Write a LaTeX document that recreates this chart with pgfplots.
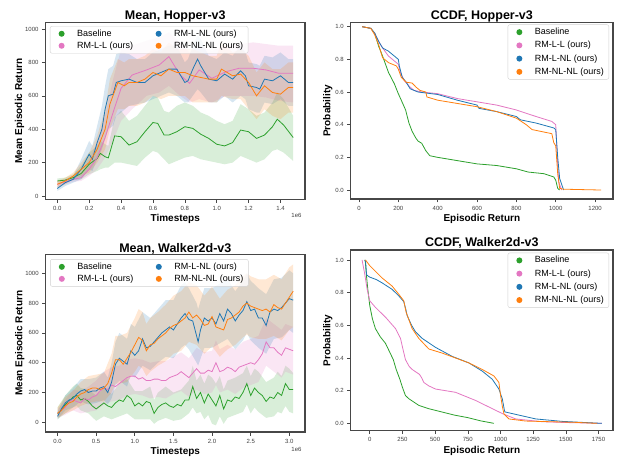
\documentclass[border=0pt]{standalone}
\usepackage{fontspec}
\setmainfont{Liberation Sans}
\usepackage{pgfplots}
\pgfplotsset{compat=1.18}
\usepackage{pgfplotstable}

\definecolor{tgreen}{HTML}{2CA02C}
\definecolor{tpink}{HTML}{E377C2}
\definecolor{tblue}{HTML}{1F77B4}
\definecolor{torange}{HTML}{FF7F0E}

% ---- Mean, Hopper-v3 (x in 1e6 timesteps)
\pgfplotstableread{
x m
0 90
0.05 95
0.1 110
0.15 135
0.2 190
0.25 225
0.27 255
0.3 235
0.32 228
0.36 360
0.4 355
0.45 305
0.5 325
0.55 385
0.6 440
0.63 435
0.67 365
0.7 365
0.75 385
0.8 415
0.85 405
0.9 370
0.95 345
1.0 310
1.05 300
1.1 320
1.15 395
1.2 385
1.25 345
1.3 365
1.35 415
1.38 460
1.42 425
1.48 350
}\hopBase
\pgfplotstableread{
x m
0 70
0.05 85
0.1 100
0.15 110
0.2 160
0.25 230
0.3 350
0.35 500
0.4 645
0.47 725
0.56 755
0.64 785
0.7 835
0.77 725
0.83 675
0.89 755
0.97 705
1.06 745
1.14 765
1.23 765
1.31 755
1.39 735
1.48 735
}\hopLL
\pgfplotstableread{
x m
0 45
0.05 80
0.1 100
0.15 160
0.2 250
0.22 220
0.25 320
0.28 400
0.3 520
0.32 600
0.35 610
0.37 680
0.4 690
0.45 700
0.5 680
0.55 680
0.6 720
0.65 740
0.7 760
0.75 760
0.8 680
0.82 690
0.85 760
0.88 820
0.9 780
0.95 700
1.0 690
1.05 730
1.1 700
1.15 750
1.18 720
1.2 660
1.25 650
1.27 640
1.3 700
1.35 690
1.4 720
1.45 680
1.48 680
}\hopLNL
\pgfplotstableread{
x m
0 70
0.05 90
0.1 120
0.15 160
0.2 200
0.25 280
0.3 400
0.33 550
0.38 680
0.42 660
0.45 680
0.5 680
0.55 700
0.6 740
0.65 720
0.7 760
0.75 740
0.8 740
0.85 720
0.9 710
0.95 700
1.0 700
1.03 760
1.1 720
1.15 730
1.2 680
1.25 600
1.3 660
1.35 620
1.4 610
1.45 650
1.48 650
}\hopNLNL

% ---- Mean, Walker2d-v3
\pgfplotstableread{
x m
0 60
0.05 80
0.1 120
0.15 140
0.2 170
0.25 180
0.3 150
0.35 160
0.4 140
0.45 110
0.5 90
0.55 110
0.6 130
0.65 110
0.7 100
0.75 130
0.8 150
0.85 140
0.9 180
0.95 160
1.0 110
1.05 130
1.1 110
1.15 140
1.2 130
1.25 60
1.3 100
1.35 120
1.4 130
1.45 110
1.5 100
1.55 120
1.6 110
1.65 150
1.7 150
1.75 240
1.8 160
1.85 200
1.9 130
1.95 190
2.0 150
2.05 110
2.1 180
2.15 90
2.2 150
2.25 140
2.3 170
2.35 160
2.4 200
2.45 260
2.5 180
2.55 230
2.6 200
2.65 180
2.7 140
2.75 170
2.8 160
2.85 200
2.9 180
2.95 260
3.0 220
3.05 220
}\walBase
\pgfplotstableread{
x m
0 60
0.1 100
0.15 140
0.2 150
0.25 140
0.3 130
0.35 160
0.4 150
0.45 170
0.5 180
0.55 210
0.6 230
0.65 220
0.7 250
0.75 240
0.8 260
0.85 280
0.9 300
0.95 310
1.0 310
1.05 290
1.1 300
1.15 280
1.2 280
1.25 290
1.3 290
1.35 280
1.4 280
1.45 300
1.5 310
1.55 320
1.6 340
1.65 320
1.7 300
1.75 330
1.8 360
1.85 330
1.9 330
1.95 350
2.0 340
2.05 400
2.1 340
2.15 350
2.2 370
2.25 360
2.3 340
2.35 370
2.4 380
2.45 390
2.5 400
2.55 390
2.6 420
2.65 460
2.7 540
2.75 500
2.8 500
2.85 470
2.9 450
2.95 500
3.0 490
3.05 480
}\walLL
\pgfplotstableread{
x m
0 40
0.05 90
0.1 130
0.15 150
0.2 160
0.25 190
0.3 210
0.35 220
0.4 200
0.45 210
0.5 210
0.55 230
0.6 240
0.65 200
0.7 270
0.75 390
0.8 430
0.85 410
0.9 390
0.95 480
1.0 450
1.05 480
1.1 560
1.15 500
1.2 510
1.25 540
1.3 570
1.35 600
1.4 620
1.45 640
1.5 620
1.55 660
1.6 700
1.65 730
1.7 690
1.75 680
1.8 580
1.82 540
1.85 620
1.9 700
1.95 680
2.0 700
2.05 660
2.1 730
2.15 680
2.2 760
2.25 730
2.3 680
2.35 720
2.4 750
2.45 810
2.5 750
2.55 760
2.6 700
2.65 700
2.7 650
2.75 740
2.8 760
2.85 750
2.9 770
2.95 800
3.0 830
3.05 820
}\walLNL
\pgfplotstableread{
x m
0 60
0.05 80
0.1 110
0.15 130
0.2 140
0.25 170
0.3 190
0.35 200
0.4 220
0.45 230
0.5 230
0.55 220
0.6 230
0.65 260
0.7 330
0.75 420
0.8 420
0.85 390
0.9 430
0.95 470
1.0 520
1.05 570
1.1 550
1.15 480
1.2 520
1.25 530
1.3 560
1.35 580
1.4 600
1.45 630
1.5 650
1.55 660
1.6 680
1.65 700
1.7 740
1.75 700
1.8 720
1.85 690
1.9 650
1.95 660
2.0 710
2.05 640
2.1 630
2.15 620
2.2 690
2.25 700
2.3 720
2.35 740
2.4 780
2.45 800
2.5 780
2.55 770
2.6 760
2.65 750
2.7 760
2.75 740
2.8 790
2.85 770
2.9 760
2.95 800
3.0 840
3.05 880
}\walNLNL

% ---- CCDF tables: episodic return, probability
\pgfplotstableread{
r p
16 1.0
60 0.99
80 0.96
100 0.88
120 0.82
150 0.72
180 0.65
200 0.59
215 0.55
237 0.49
254 0.41
270 0.36
288 0.32
300 0.30
319 0.286
340 0.24
360 0.21
400 0.20
500 0.18
600 0.16
700 0.15
800 0.13
860 0.11
940 0.10
990 0.08
1000 0.06
1010 0.01
1020 0.0
}\chopBase
\pgfplotstableread{
r p
16 1.0
60 0.99
80 0.96
100 0.91
120 0.87
150 0.82
180 0.79
200 0.77
210 0.72
230 0.67
260 0.63
280 0.61
320 0.60
400 0.59
500 0.56
600 0.54
700 0.52
800 0.49
900 0.45
980 0.42
1000 0.40
1008 0.20
1015 0.05
1030 0.0
}\chopLL
\pgfplotstableread{
r p
16 1.0
60 0.99
80 0.96
100 0.91
120 0.87
150 0.85
180 0.82
200 0.80
205 0.76
220 0.69
240 0.66
260 0.62
300 0.60
400 0.585
500 0.55
600 0.52
610 0.50
700 0.48
800 0.45
820 0.43
900 0.41
990 0.38
1000 0.37
1010 0.20
1020 0.07
1040 0.0
}\chopLNL
\pgfplotstableread{
r p
16 1.0
60 0.99
80 0.95
100 0.89
120 0.81
150 0.78
190 0.76
200 0.74
215 0.69
240 0.66
270 0.655
290 0.63
310 0.61
340 0.60
345 0.57
400 0.55
500 0.53
600 0.51
700 0.48
800 0.44
850 0.40
880 0.37
980 0.345
990 0.29
1000 0.27
1010 0.10
1020 0.01
1040 0.005
1230 0.0
}\chopNLNL
\pgfplotstableread{
r p
-35 1.0
-25 0.9
-15 0.82
0 0.72
20 0.64
43 0.58
80 0.53
120 0.49
150 0.44
180 0.39
202 0.33
230 0.27
250 0.22
273 0.17
300 0.15
375 0.11
450 0.09
550 0.07
650 0.05
750 0.035
850 0.015
950 0.0
}\cwalBase
\pgfplotstableread{
r p
-59 1.0
-40 0.92
-20 0.82
0 0.75
43 0.71
120 0.65
197 0.58
235 0.52
255 0.45
273 0.39
300 0.35
324 0.33
380 0.30
396 0.28
414 0.25
450 0.23
503 0.21
656 0.19
810 0.14
937 0.09
1014 0.06
1116 0.027
1320 0.01
1500 0.005
1775 0.0
}\cwalLL
\pgfplotstableread{
r p
-40 1.0
-32 0.99
-25 0.91
-10 0.90
0 0.895
50 0.88
94 0.86
171 0.82
222 0.78
260 0.745
275 0.70
286 0.66
320 0.60
350 0.56
401 0.52
503 0.465
630 0.41
758 0.37
860 0.32
937 0.27
988 0.21
1014 0.15
1030 0.08
1034 0.07
1116 0.055
1270 0.027
1473 0.012
1775 0.0
}\cwalLNL
\pgfplotstableread{
r p
-33 1.0
0 0.965
94 0.89
171 0.84
222 0.79
260 0.75
278 0.68
324 0.58
375 0.52
452 0.455
554 0.43
656 0.40
758 0.37
860 0.33
950 0.29
988 0.25
1001 0.17
1015 0.10
1027 0.057
1065 0.027
1193 0.014
1576 0.006
1740 0.0
}\cwalNLNL

\pgfplotsset{
  panel/.style={
    scale only axis,
    axis line style={draw=black!72, line width=1.1pt},
    xtick pos=lower, ytick pos=left,
    tick align=outside,
    major tick length=3.5pt,
    tick style={draw=black!72, line width=0.6pt},
    ticklabel style={font=\fontsize{6}{7}\selectfont, text=black!75},
    /pgf/number format/assume math mode=true,
    /pgf/number format/1000 sep={},
    scaled ticks=false,
    title style={font=\bfseries\fontsize{12.5}{14}\selectfont,
      at={(0.5,1)}, anchor=base, yshift=-2.5pt},
    label style={font=\bfseries\fontsize{10}{12}\selectfont},
    xlabel style={yshift=3pt},
    legend cell align=left,
    legend style={font=\fontsize{9}{10.5}\selectfont, draw=black!18,
      rounded corners=2pt, fill=white, fill opacity=0.8, text opacity=1,
      inner xsep=3pt, inner ysep=1.5pt},
    legend image code/.code={\path[draw=none] (0pt,0pt) -- (22pt,0pt);
      \fill[##1, draw=none, fill opacity=1] (8.5pt,0pt) circle (3pt);},
    every axis plot/.append style={line width=0.8pt},
  },
  band/.style={draw=none, fill=#1, fill opacity=0.18, forget plot},
  % offset multiplier under the x axis (not clipped)
  expo/.style={extra description/.code={
    \node[anchor=east, font=\fontsize{6}{6}\selectfont, text=black!75]
      at (1,#1) {1e6};}},
}

\begin{document}
\begin{tikzpicture}
\useasboundingbox (0,0) rectangle (618pt,458pt);

% ===== Mean, Hopper-v3
\begin{axis}[panel, expo=-0.088,
  at={(45.5pt,258.5pt)}, anchor=south west,
  width=259.5pt, height=176.8pt,
  xmin=-0.074, xmax=1.554, ymin=-21, ymax=1038,
  xtick={0,0.2,0.4,0.6,0.8,1.0,1.2,1.4},
  xticklabel style={/pgf/number format/.cd, fixed, fixed zerofill, precision=1},
  ytick={0,200,400,600,800,1000},
  title={Mean, Hopper-v3},
  xlabel={Timesteps}, ylabel={Mean Episodic Return},
  ylabel style={yshift=-6pt},
  legend columns=2, legend transposed=true,
  legend style={at={(0.017,0.981)}, anchor=north west,
    /tikz/every even column/.append style={column sep=15pt}},
]
% bands: upper edge left to right, then lower edge right to left
\addplot[band=tgreen] coordinates {(0,105)(0.05,110)(0.1,130)(0.15,180)(0.2,260)(0.25,300)(0.27,330)(0.3,310)(0.32,300)(0.36,470)(0.4,510)(0.45,450)(0.5,480)(0.55,540)(0.6,600)(0.63,590)(0.67,510)(0.7,500)(0.75,540)(0.8,560)(0.85,540)(0.9,500)(0.95,480)(1.0,450)(1.05,430)(1.1,450)(1.15,550)(1.2,520)(1.25,480)(1.3,500)(1.35,560)(1.38,620)(1.42,580)(1.48,480)
 (1.48,210)(1.42,260)(1.38,280)(1.35,270)(1.3,220)(1.25,200)(1.2,220)(1.15,240)(1.1,200)(1.05,190)(1.0,200)(0.95,210)(0.9,220)(0.85,240)(0.8,230)(0.75,210)(0.7,190)(0.67,220)(0.63,260)(0.6,270)(0.55,230)(0.5,180)(0.45,190)(0.4,200)(0.36,200)(0.32,170)(0.3,170)(0.27,160)(0.25,150)(0.2,130)(0.15,100)(0.1,95)(0.05,80)(0,75)};
\addplot[band=tpink] coordinates {(0,90)(0.05,100)(0.1,120)(0.15,140)(0.2,220)(0.25,320)(0.3,480)(0.35,700)(0.4,880)(0.47,900)(0.56,930)(0.64,950)(0.7,980)(0.77,920)(0.83,860)(0.89,900)(0.97,870)(1.06,900)(1.14,910)(1.23,920)(1.31,910)(1.39,900)(1.48,900)
 (1.48,560)(1.39,570)(1.31,590)(1.23,600)(1.14,600)(1.06,600)(0.97,560)(0.89,580)(0.83,560)(0.77,600)(0.7,660)(0.64,620)(0.56,600)(0.47,520)(0.4,450)(0.35,330)(0.3,230)(0.25,160)(0.2,120)(0.15,90)(0.1,85)(0.05,70)(0,55)};
\addplot[band=tblue] coordinates {(0,60)(0.05,100)(0.1,120)(0.15,220)(0.2,330)(0.22,300)(0.25,420)(0.28,540)(0.3,660)(0.32,760)(0.35,780)(0.37,850)(0.4,860)(0.45,850)(0.5,820)(0.55,820)(0.6,860)(0.65,880)(0.7,900)(0.75,900)(0.8,800)(0.82,820)(0.85,900)(0.88,960)(0.9,940)(0.95,840)(1.0,820)(1.05,860)(1.1,840)(1.15,900)(1.18,860)(1.2,800)(1.25,790)(1.27,780)(1.3,840)(1.35,830)(1.4,860)(1.45,820)(1.48,820)
 (1.48,540)(1.45,540)(1.4,580)(1.35,550)(1.3,560)(1.27,500)(1.25,500)(1.2,520)(1.18,580)(1.15,600)(1.1,560)(1.05,600)(1.0,560)(0.95,560)(0.9,620)(0.88,640)(0.85,600)(0.82,560)(0.8,560)(0.75,600)(0.7,620)(0.65,600)(0.6,580)(0.55,560)(0.5,550)(0.45,540)(0.4,500)(0.37,480)(0.35,420)(0.32,400)(0.3,340)(0.28,280)(0.25,220)(0.22,150)(0.2,160)(0.15,100)(0.1,80)(0.05,60)(0,30)};
\addplot[band=torange] coordinates {(0,90)(0.05,110)(0.1,140)(0.15,200)(0.2,260)(0.25,360)(0.3,520)(0.33,700)(0.38,820)(0.42,800)(0.45,820)(0.5,820)(0.55,840)(0.6,880)(0.65,860)(0.7,920)(0.75,880)(0.8,880)(0.85,880)(0.9,860)(0.95,840)(1.0,840)(1.03,920)(1.1,860)(1.15,880)(1.2,840)(1.25,740)(1.3,800)(1.35,760)(1.4,760)(1.45,800)(1.48,800)
 (1.48,500)(1.45,500)(1.4,460)(1.35,480)(1.3,520)(1.25,460)(1.2,520)(1.15,580)(1.1,580)(1.03,600)(1.0,560)(0.95,560)(0.9,560)(0.85,560)(0.8,600)(0.75,600)(0.7,600)(0.65,580)(0.6,600)(0.55,560)(0.5,540)(0.45,540)(0.42,520)(0.38,520)(0.33,400)(0.3,280)(0.25,200)(0.2,140)(0.15,120)(0.1,100)(0.05,70)(0,50)};
\addplot[tgreen] table[x=x,y=m]{\hopBase};
\addlegendentry{Baseline}
\addplot[tpink] table[x=x,y=m]{\hopLL};
\addlegendentry{RM-L-L (ours)}
\addplot[tblue] table[x=x,y=m]{\hopLNL};
\addlegendentry{RM-L-NL (ours)}
\addplot[torange] table[x=x,y=m]{\hopNLNL};
\addlegendentry{RM-NL-NL (ours)}
\end{axis}

% ===== CCDF, Hopper-v3
\begin{axis}[panel,
  at={(350.7pt,259pt)}, anchor=south west,
  width=262.3pt, height=176.3pt,
  xmin=-42, xmax=1291, ymin=-0.055, ymax=1.0245,
  xtick={0,200,400,600,800,1000,1200},
  ytick={0,0.2,0.4,0.6,0.8,1.0},
  yticklabel style={/pgf/number format/.cd, fixed, fixed zerofill, precision=1},
  title={CCDF, Hopper-v3},
  xlabel={Episodic Return}, ylabel={Probability},
  ylabel style={yshift=-4pt},
  legend style={at={(0.985,0.99)}, anchor=north east, row sep=1.2pt},
]
\addplot[tgreen] table[x=r,y=p]{\chopBase};
\addlegendentry{Baseline}
\addplot[tpink] table[x=r,y=p]{\chopLL};
\addlegendentry{RM-L-L (ours)}
\addplot[tblue] table[x=r,y=p]{\chopLNL};
\addlegendentry{RM-L-NL (ours)}
\addplot[torange] table[x=r,y=p]{\chopNLNL};
\addlegendentry{RM-NL-NL (ours)}
\end{axis}

% ===== Mean, Walker2d-v3
\begin{axis}[panel, expo=-0.096,
  at={(45.7pt,26pt)}, anchor=south west,
  width=259.3pt, height=177.3pt,
  xmin=-0.153, xmax=3.203, ymin=-65, ymax=1125,
  xtick={0,0.5,1.0,1.5,2.0,2.5,3.0},
  xticklabel style={/pgf/number format/.cd, fixed, fixed zerofill, precision=1},
  ytick={0,200,400,600,800,1000},
  title={Mean, Walker2d-v3},
  title style={yshift=-1.5pt},
  xlabel={Timesteps}, ylabel={Mean Episodic Return},
  ylabel style={yshift=-6pt},
  legend columns=2, legend transposed=true,
  legend style={at={(0.017,0.975)}, anchor=north west,
    /tikz/every even column/.append style={column sep=15pt}},
]
\addplot[band=tgreen] coordinates {(0,100)(0.1,180)(0.2,240)(0.25,260)(0.3,230)(0.4,220)(0.5,180)(0.6,230)(0.7,190)(0.8,260)(0.9,290)(1.0,210)(1.1,210)(1.2,240)(1.25,150)(1.3,200)(1.4,240)(1.5,200)(1.6,220)(1.7,280)(1.75,380)(1.8,280)(1.85,320)(1.9,260)(1.95,320)(2.0,300)(2.05,260)(2.1,310)(2.15,220)(2.2,280)(2.3,300)(2.4,330)(2.45,380)(2.5,310)(2.55,360)(2.6,340)(2.7,270)(2.8,300)(2.85,340)(2.9,310)(2.95,380)(3.0,360)(3.05,330)
 (3.05,60)(3.0,70)(2.95,110)(2.9,60)(2.85,70)(2.8,40)(2.7,30)(2.6,70)(2.55,100)(2.5,60)(2.45,120)(2.4,70)(2.3,50)(2.2,30)(2.15,-10)(2.1,40)(2.05,-20)(2.0,-10)(1.95,50)(1.9,20)(1.85,70)(1.8,60)(1.75,100)(1.7,60)(1.6,20)(1.5,10)(1.4,30)(1.3,10)(1.25,-10)(1.2,20)(1.1,20)(1.0,20)(0.9,60)(0.8,40)(0.7,20)(0.6,40)(0.5,10)(0.4,60)(0.3,80)(0.25,110)(0.2,100)(0.1,60)(0,20)};
\addplot[band=tpink] coordinates {(0,90)(0.1,150)(0.2,220)(0.3,210)(0.4,240)(0.5,280)(0.6,340)(0.7,370)(0.8,380)(0.9,420)(1.0,430)(1.1,420)(1.2,400)(1.3,410)(1.4,410)(1.5,440)(1.6,470)(1.7,430)(1.8,500)(1.9,470)(2.0,480)(2.05,550)(2.1,490)(2.2,520)(2.3,490)(2.4,540)(2.5,560)(2.6,580)(2.7,700)(2.8,660)(2.9,620)(2.95,660)(3.0,650)(3.05,640)
 (3.05,320)(3.0,330)(2.95,340)(2.9,300)(2.8,340)(2.7,380)(2.6,270)(2.5,250)(2.4,230)(2.3,190)(2.2,220)(2.1,200)(2.05,250)(2.0,200)(1.9,190)(1.8,220)(1.7,170)(1.6,210)(1.5,190)(1.4,160)(1.3,170)(1.2,160)(1.1,180)(1.0,190)(0.9,180)(0.8,150)(0.7,140)(0.6,120)(0.5,80)(0.4,70)(0.3,60)(0.2,80)(0.1,50)(0,30)};
\addplot[band=tblue] coordinates {(0,70)(0.1,180)(0.2,230)(0.3,290)(0.4,290)(0.5,300)(0.6,340)(0.65,300)(0.7,400)(0.75,540)(0.8,600)(0.9,560)(0.95,660)(1.0,640)(1.1,740)(1.2,700)(1.3,760)(1.4,820)(1.5,820)(1.6,920)(1.65,940)(1.7,900)(1.8,800)(1.82,760)(1.9,900)(2.0,900)(2.1,930)(2.2,960)(2.3,880)(2.4,950)(2.45,1000)(2.5,950)(2.6,900)(2.7,860)(2.8,960)(2.9,970)(3.0,1020)(3.05,1000)
 (3.05,600)(3.0,620)(2.9,570)(2.8,560)(2.7,460)(2.6,500)(2.5,550)(2.45,600)(2.4,550)(2.3,490)(2.2,560)(2.1,530)(2.0,500)(1.9,500)(1.82,380)(1.8,400)(1.7,490)(1.65,520)(1.6,500)(1.5,430)(1.4,440)(1.3,400)(1.2,350)(1.1,380)(1.0,300)(0.95,320)(0.9,240)(0.8,280)(0.75,250)(0.7,160)(0.65,120)(0.6,150)(0.5,130)(0.4,120)(0.3,140)(0.2,100)(0.1,80)(0,20)};
\addplot[band=torange] coordinates {(0,100)(0.1,170)(0.2,210)(0.3,270)(0.4,310)(0.5,320)(0.6,330)(0.7,460)(0.75,580)(0.8,580)(0.9,600)(1.0,700)(1.05,760)(1.1,740)(1.15,660)(1.2,700)(1.3,740)(1.4,790)(1.5,850)(1.6,880)(1.7,940)(1.8,920)(1.9,850)(2.0,910)(2.1,830)(2.2,890)(2.3,920)(2.4,980)(2.45,1000)(2.5,980)(2.6,960)(2.7,960)(2.8,990)(2.9,960)(3.0,1040)(3.05,1060)
 (3.05,640)(3.0,620)(2.9,550)(2.8,580)(2.7,560)(2.6,560)(2.5,570)(2.45,590)(2.4,570)(2.3,520)(2.2,490)(2.1,440)(2.0,510)(1.9,460)(1.8,520)(1.7,540)(1.6,480)(1.5,460)(1.4,410)(1.3,380)(1.2,340)(1.15,310)(1.1,360)(1.05,380)(1.0,340)(0.9,270)(0.8,260)(0.75,260)(0.7,200)(0.6,140)(0.5,140)(0.4,130)(0.3,110)(0.2,80)(0.1,60)(0,30)};
\addplot[tgreen] table[x=x,y=m]{\walBase};
\addlegendentry{Baseline}
\addplot[tpink] table[x=x,y=m]{\walLL};
\addlegendentry{RM-L-L (ours)}
\addplot[tblue] table[x=x,y=m]{\walLNL};
\addlegendentry{RM-L-NL (ours)}
\addplot[torange] table[x=x,y=m]{\walNLNL};
\addlegendentry{RM-NL-NL (ours)}
\end{axis}

% ===== CCDF, Walker2d-v3
\begin{axis}[panel,
  at={(350.7pt,27.3pt)}, anchor=south west,
  width=262.3pt, height=180.7pt,
  xmin=-146, xmax=1861, ymin=-0.045, ymax=1.061,
  xtick={0,250,500,750,1000,1250,1500,1750},
  ytick={0,0.2,0.4,0.6,0.8,1.0},
  yticklabel style={/pgf/number format/.cd, fixed, fixed zerofill, precision=1},
  title={CCDF, Walker2d-v3},
  xlabel={Episodic Return}, ylabel={Probability},
  ylabel style={yshift=-4pt},
  legend style={at={(0.985,0.985)}, anchor=north east, row sep=1.2pt},
]
\addplot[tgreen] table[x=r,y=p]{\cwalBase};
\addlegendentry{Baseline}
\addplot[tpink] table[x=r,y=p]{\cwalLL};
\addlegendentry{RM-L-L (ours)}
\addplot[tblue] table[x=r,y=p]{\cwalLNL};
\addlegendentry{RM-L-NL (ours)}
\addplot[torange] table[x=r,y=p]{\cwalNLNL};
\addlegendentry{RM-NL-NL (ours)}
\end{axis}
\end{tikzpicture}
\end{document}
